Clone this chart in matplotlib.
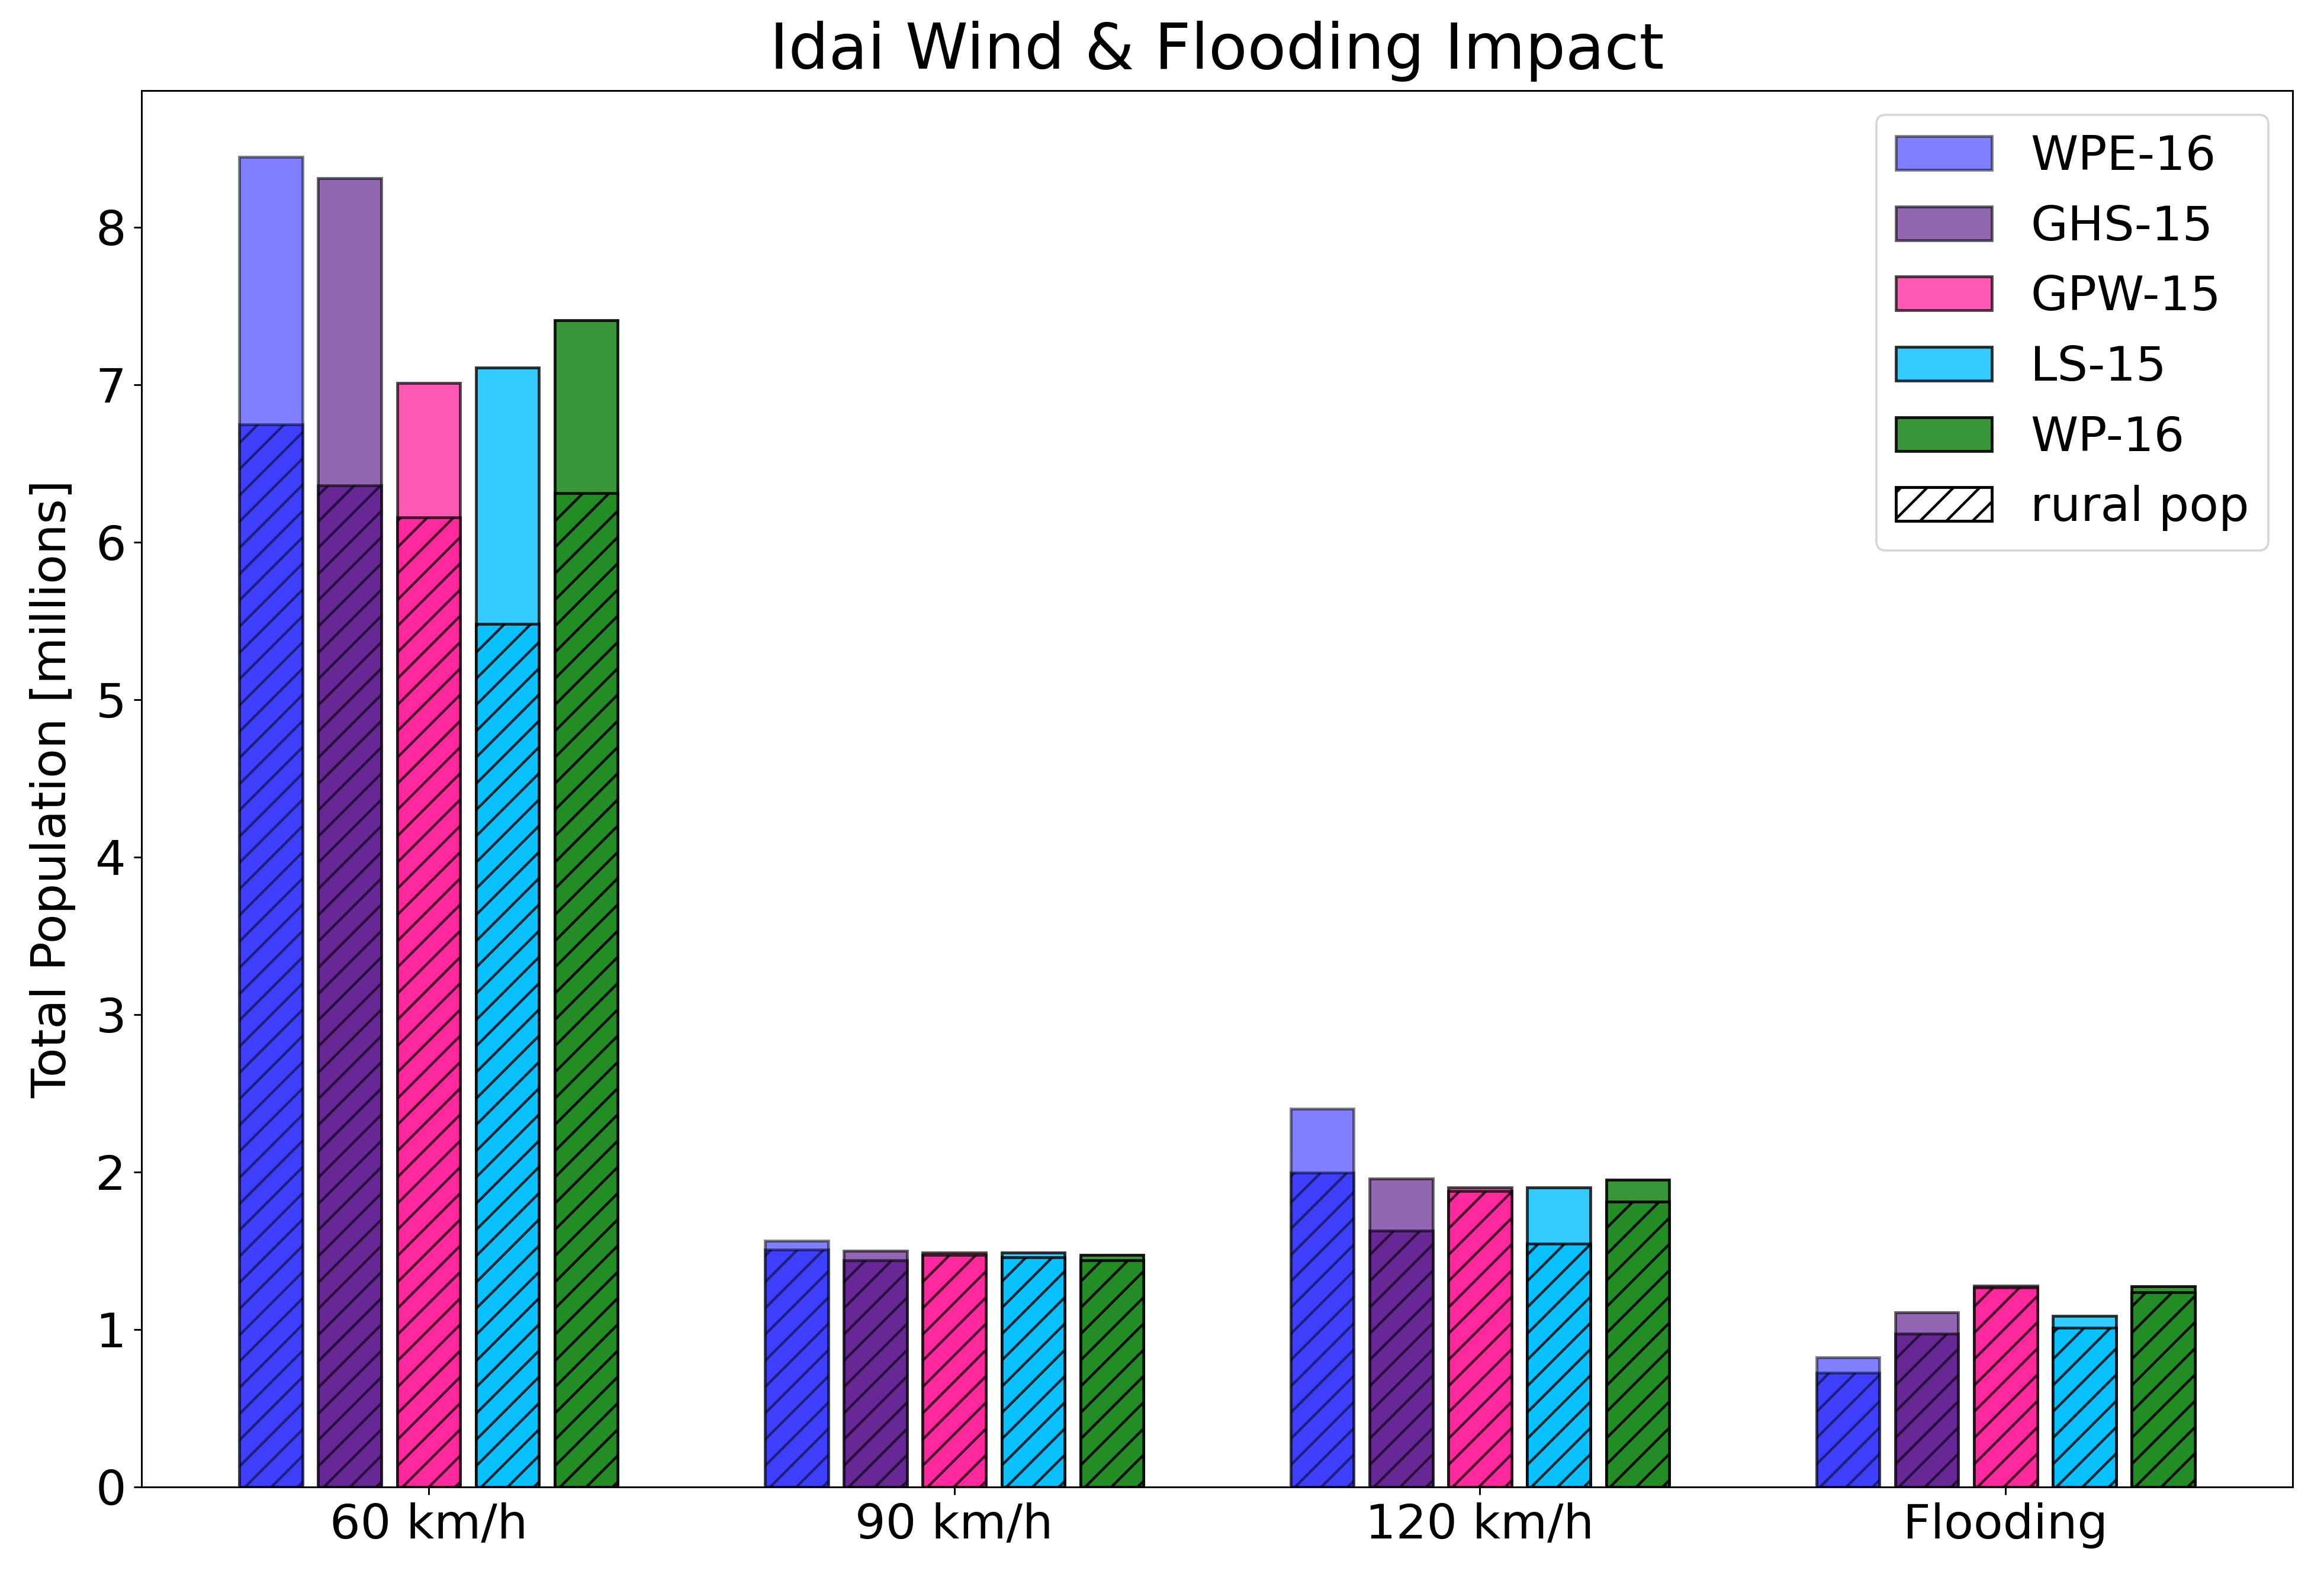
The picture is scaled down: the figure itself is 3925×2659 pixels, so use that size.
import matplotlib
matplotlib.use('Agg')
import matplotlib.pyplot as plt
from matplotlib.patches import Patch
import numpy as np

categories = ['60 km/h', '90 km/h', '120 km/h', 'Flooding']
datasets = ['WPE-16', 'GHS-15', 'GPW-15', 'LS-15', 'WP-16']

# total population per dataset (millions)
wpe_total = [8.445, 1.565, 2.40, 0.823]
ghs_total = [8.31, 1.50, 1.958, 1.11]
gpw_total = [7.01, 1.49, 1.90, 1.278]
ls_total = [7.108, 1.488, 1.90, 1.085]
wp_total = [7.407, 1.473, 1.95, 1.275]

# rural population per dataset (millions)
wpe_rural = [6.747, 1.507, 1.995, 0.725]
ghs_rural = [6.36, 1.44, 1.627, 0.973]
gpw_rural = [6.156, 1.473, 1.88, 1.265]
ls_rural = [5.48, 1.458, 1.546, 1.012]
wp_rural = [6.31, 1.44, 1.81, 1.238]

colors = ['blue', 'indigo', 'deeppink', 'deepskyblue', 'forestgreen']
alphas = [0.5, 0.6, 0.7, 0.8, 0.9]

totals = [wpe_total, ghs_total, gpw_total, ls_total, wp_total]
rurals = [wpe_rural, ghs_rural, gpw_rural, ls_rural, wp_rural]

plt.rcParams['hatch.linewidth'] = 1.2

DPI = 266
fig, ax = plt.subplots(figsize=(3925 / DPI, 2659 / DPI), dpi=DPI)
fig.subplots_adjust(left=0.0609, right=0.9865, bottom=0.0553, top=0.9425)

x = np.arange(len(categories))
width = 0.12
step = 0.15

handles = []
for i, name in enumerate(datasets):
    pos = x + (i - 2) * step
    b = ax.bar(pos, totals[i], width, color=colors[i], alpha=alphas[i],
               edgecolor='black', linewidth=1.3, label=name)
    ax.bar(pos, rurals[i], width, color=colors[i], alpha=alphas[i],
           edgecolor='black', linewidth=1.3, hatch='//')
    handles.append(b)

handles.append(Patch(facecolor='white', edgecolor='black', linewidth=1.3,
                     hatch='//', label='rural pop'))

ax.set_xticks(x)
ax.set_xticklabels(categories, fontsize=22)
ax.tick_params(axis='y', labelsize=22)
ax.set_ylabel('Total Population [millions]', fontsize=22, labelpad=9)
ax.set_title('Idai Wind & Flooding Impact', fontsize=29, pad=10)
ax.legend(handles=handles, loc='upper right', fontsize=22)

plt.savefig('out.png', dpi=DPI)
